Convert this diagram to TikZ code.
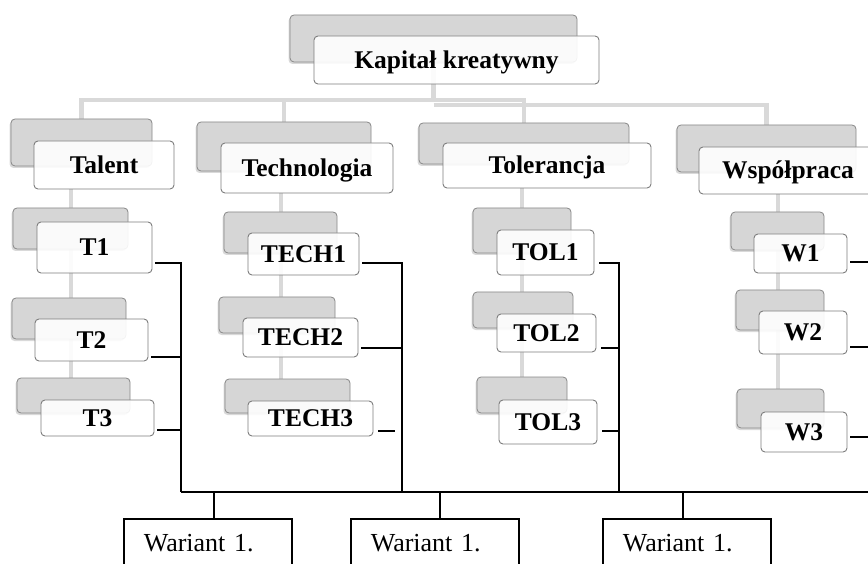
\documentclass[tikz,border=0pt]{standalone}
\usepackage{fontspec}
\setmainfont{Liberation Serif}
\usetikzlibrary{shadows,calc}
\pgfdeclarelayer{bg}
\pgfsetlayers{bg,main}
\definecolor{gfill}{RGB}{214,214,214}
\definecolor{gline}{RGB}{135,135,135}
\definecolor{conn}{RGB}{217,217,217}
\definecolor{wline}{RGB}{125,125,125}
\tikzset{
 gbx/.style={draw=gline, fill=gfill, rounded corners=4pt, line width=0.8pt, inner sep=0pt, outer sep=0pt,
   drop shadow={shadow xshift=-1.5pt, shadow yshift=-2pt, opacity=.3}},
 wbx/.style={draw=wline, fill=white, fill opacity=.9, text opacity=1, draw opacity=1, rounded corners=4pt,
   line width=0.9pt, inner sep=0pt, outer sep=0pt, text height=16.5pt, text depth=0pt,
   font=\bfseries\fontsize{25.5}{30}\selectfont},
 gconn/.style={draw=conn, line width=4.5pt},
 bconn/.style={draw=black, line width=1.4pt},
 varbox/.style={draw=black, line width=1.6pt, anchor=north west, inner xsep=20pt, inner ysep=0pt,
   text width=128pt, align=left, minimum height=48pt, font=\fontsize{26}{30}\selectfont},
}
\newcommand\gboxx[5]{\node[gbx, minimum width={#4pt-#2pt}, minimum height={#5pt-#3pt}] (#1) at ({(#2+#4)/2},{(#3+#5)/2}) {};}
\newcommand\wboxx[6]{\node[wbx, minimum width={#4pt-#2pt}, minimum height={#5pt-#3pt}] (#1) at ({(#2+#4)/2},{(#3+#5)/2}) {#6};}
\begin{document}
\begin{tikzpicture}[x=1pt,y=-1pt]
\useasboundingbox (0,0) rectangle (868,564);
\clip (0,0) rectangle (868,564);

% top
\gboxx{kapG}{290}{15}{577}{62}
\wboxx{kapW}{314}{36}{599}{84}{Kapitał kreatywny}

% Talent
\gboxx{talG}{11}{119}{152}{166}
\wboxx{talW}{34}{141}{174}{189}{Talent}
\gboxx{t1G}{13}{208}{128}{249}
\wboxx{t1W}{37}{222}{152}{273}{T1}
\gboxx{t2G}{12}{298}{126}{339}
\wboxx{t2W}{35}{319}{148}{361}{T2}
\gboxx{t3G}{17}{378}{130}{413}
\wboxx{t3W}{41}{400}{154}{436}{T3}

% Technologia
\gboxx{tecG}{197}{122}{371}{171}
\wboxx{tecW}{221}{143}{393}{193}{Technologia}
\gboxx{te1G}{224}{212}{337}{253}
\wboxx{te1W}{248}{233}{359}{275}{TECH1}
\gboxx{te2G}{219}{297}{335}{333}
\wboxx{te2W}{243}{318}{358}{357}{TECH2}
\gboxx{te3G}{225}{379}{350}{413}
\wboxx{te3W}{248}{401}{373}{436}{TECH3}

% Tolerancja
\gboxx{tolG}{419}{123}{629}{164}
\wboxx{tolW}{443}{143}{651}{188}{Tolerancja}
\gboxx{to1G}{473}{208}{571}{253}
\wboxx{to1W}{497}{230}{594}{275}{TOL1}
\gboxx{to2G}{473}{292}{573}{328}
\wboxx{to2W}{497}{314}{596}{352}{TOL2}
\gboxx{to3G}{477}{377}{567}{413}
\wboxx{to3W}{499}{400}{597}{444}{TOL3}

% Wspolpraca
\gboxx{wspG}{677}{125}{856}{172}
\wboxx{wspW}{699}{147}{877}{194}{Współpraca}
\gboxx{w1G}{731}{212}{824}{250}
\wboxx{w1W}{754}{234}{847}{273}{W1}
\gboxx{w2G}{736}{290}{824}{330}
\wboxx{w2W}{759}{311}{847}{354}{W2}
\gboxx{w3G}{737}{389}{824}{428}
\wboxx{w3W}{761}{412}{847}{452}{W3}

% grey connectors behind
\begin{pgfonlayer}{bg}
\draw[gconn] (kapG.south) -- (kapG.south |- 0,100) -| (talG.north);
\draw[gconn] (kapG.south |- 0,100) -| (tolG.north);
\draw[gconn] (tecG.north |- 0,100) -- (tecG.north);
\draw[gconn] (kapG.south |- 0,105) -| (wspG.north);
\draw[gconn, line width=4pt] (t1G.north |- talW.south) -- (t1G.north |- t3G.north);
\draw[gconn, line width=4pt] (te1G.north |- tecW.south) -- (te1G.north |- te3G.north);
\draw[gconn, line width=4pt] (to1G.north |- tolW.south) -- (to1G.north |- to3G.north);
\draw[gconn, line width=4pt] (w1G.north |- wspW.south) -- (w1G.north |- w3G.north);
\end{pgfonlayer}

% black connectors
\coordinate (vT) at (181,492);
\coordinate (vTE) at (402,492);
\coordinate (vTO) at (619,492);
\coordinate (busE) at (868,492);
\coordinate (edgeR) at (868,0);

\draw[bconn] ([xshift=3pt]t1W.east |- 0,263) -| (vT);
\draw[bconn] ([xshift=3pt]t2W.east |- 0,357) -- (vT |- 0,357);
\draw[bconn] ([xshift=3pt]t3W.east |- 0,430) -- (vT |- 0,430);

\draw[bconn] ([xshift=3pt]te1W.east |- 0,263) -| (vTE);
\draw[bconn] ([xshift=3pt]te2W.east |- 0,348) -- (vTE |- 0,348);
\draw[bconn] ([xshift=5pt]te3W.east |- 0,431) -- ([xshift=22pt]te3W.east |- 0,431);

\draw[bconn] ([xshift=5pt]to1W.east |- 0,263) -| (vTO);
\draw[bconn] ([xshift=5pt]to2W.east |- 0,348) -- (vTO |- 0,348);
\draw[bconn] ([xshift=5pt]to3W.east |- 0,431) -- (vTO |- 0,431);

\draw[bconn] ([xshift=3pt]w1W.east |- 0,262) -- (edgeR |- 0,262);
\draw[bconn] ([xshift=3pt]w2W.east |- 0,347) -- (edgeR |- 0,347);
\draw[bconn] ([xshift=3pt]w3W.east |- 0,437) -- (edgeR |- 0,437);

\draw[bconn] (vT) -- (busE);

% variants
\node[varbox] (wa1) at (123,518) {Wariant 1.};
\node[varbox] (wa2) at (350,518) {Wariant 1.};
\node[varbox] (wa3) at (602,518) {Wariant 1.};
\coordinate (d1) at (214,492);
\coordinate (d2) at (440,492);
\coordinate (d3) at (683,492);
\draw[bconn] (d1) -- (d1 |- wa1.north);
\draw[bconn] (d2) -- (d2 |- wa2.north);
\draw[bconn] (d3) -- (d3 |- wa3.north);
\end{tikzpicture}
\end{document}
